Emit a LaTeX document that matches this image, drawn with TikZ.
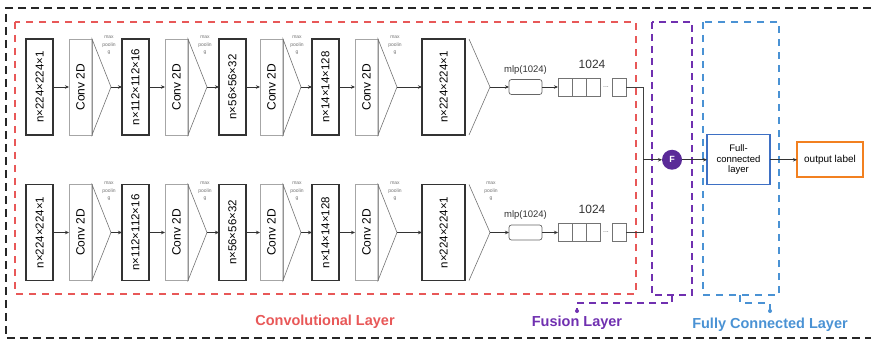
\documentclass[tikz,border=0pt]{standalone}
\usepackage{fontspec}
\setmainfont{Liberation Sans}
\usetikzlibrary{arrows.meta,positioning,calc}
\definecolor{convred}{RGB}{232,88,88}
\definecolor{fusepurple}{RGB}{112,48,176}
\definecolor{fcblue}{RGB}{74,146,212}
\definecolor{boxblue}{RGB}{62,112,196}
\definecolor{outorange}{RGB}{242,128,32}
\definecolor{fcirc}{RGB}{90,42,152}

\begin{document}
\begin{tikzpicture}[x=1pt, y=-1pt,
  feat/.style={rectangle, draw=black!80, line width=1.2pt,
    minimum width=27pt, minimum height=96pt, inner sep=0pt, outer sep=0pt,
    font=\fontsize{11.5}{12}\selectfont},
  conv/.style={rectangle, draw=black!35, line width=0.7pt,
    minimum width=23pt, minimum height=96pt, inner sep=0pt, outer sep=0pt,
    font=\fontsize{12}{13}\selectfont},
  pool/.style={draw=black!55, line width=0.6pt},
  poollbl/.style={font=\fontsize{5}{7.5}\selectfont, text=black!55,
    align=center, inner sep=0pt},
  mlp/.style={rectangle, rounded corners=2.5pt, draw=black!60, line width=0.7pt,
    minimum width=33pt, minimum height=15pt, inner sep=0pt, outer sep=0pt},
  cell/.style={rectangle, draw=black!55, line width=0.7pt,
    minimum width=14pt, minimum height=18pt, inner sep=0pt, outer sep=0pt},
  dotsty/.style={font=\fontsize{7}{7}\selectfont, text=black!60, inner sep=0pt},
  mlplbl/.style={font=\fontsize{9.5}{10}\selectfont, text=black!80, inner sep=0pt},
  numlbl/.style={font=\fontsize{12}{13}\selectfont, text=black!80, inner sep=0pt},
  fuse/.style={circle, fill=fcirc, minimum size=20pt, inner sep=0pt, outer sep=0pt,
    text=white, font=\bfseries\fontsize{9}{9}\selectfont},
  fcbox/.style={rectangle, draw=boxblue, line width=1.3pt, minimum width=63pt,
    minimum height=50pt, align=center, inner sep=0pt, outer sep=0pt,
    font=\fontsize{9.5}{10.5}\selectfont},
  outbox/.style={rectangle, draw=outorange, line width=1.6pt, minimum width=66pt,
    minimum height=35pt, inner sep=0pt, outer sep=0pt,
    font=\fontsize{10}{12}\selectfont},
  layerlbl/.style={font=\bfseries\fontsize{14.5}{16}\selectfont, inner sep=0pt},
  arr/.style={-{Stealth[length=4pt,width=3.5pt]}, line width=0.7pt, draw=black!80},
  wire/.style={line width=0.7pt, draw=black!75},
  outerdash/.style={draw=black!85, line width=2.6pt, dash pattern=on 8pt off 5pt},
  reddash/.style={draw=convred, line width=1.8pt, dash pattern=on 7pt off 6pt},
  purpdash/.style={draw=fusepurple, line width=2pt, dash pattern=on 7pt off 5pt},
  bluedash/.style={draw=fcblue, line width=2pt, dash pattern=on 7pt off 6pt},
]
\useasboundingbox (0,0) rectangle (871,342);

% FRAMES
\draw[outerdash] (871,8) -- (6,8) -- (6,338) -- (871,338);
\draw[reddash] (15,22) rectangle (636,294);
\draw[purpdash] (652,22) rectangle (692,295);
\draw[bluedash] (703,22) rectangle (779,295);
\draw[purpdash] (672,295) -- (672,303) -- (577,303) -- (577,310);
\fill[fusepurple] (577,311) circle (2pt);
\draw[bluedash] (740,295) -- (740,303) -- (770,303) -- (770,310);
\fill[fcblue] (770,311) circle (2pt);

% TOP BRANCH
\node[feat] (tx1) at (39.5,87) {\rotatebox{90}{n×224×224×1}};
\node[conv, right=16pt of tx1] (tc1) {\rotatebox{90}{Conv 2D}};
\coordinate[right=19pt of tc1] (tp1);
\node[feat, right=11pt of tp1] (tx2) {\rotatebox{90}{n×112×112×16}};
\node[conv, right=16pt of tx2] (tc2) {\rotatebox{90}{Conv 2D}};
\coordinate[right=19pt of tc2] (tp2);
\node[feat, right=12pt of tp2] (tx3) {\rotatebox{90}{n×56×56×32}};
\node[conv, right=14pt of tx3] (tc3) {\rotatebox{90}{Conv 2D}};
\coordinate[right=18pt of tc3] (tp3);
\node[feat, right=11pt of tp3] (tx4) {\rotatebox{90}{n×14×14×128}};
\node[conv, right=16pt of tx4] (tc4) {\rotatebox{90}{Conv 2D}};
\coordinate[right=19pt of tc4] (tp4);
\node[feat, minimum width=43pt, right=25pt of tp4] (tx5) {\rotatebox{90}{n×224×224×1}};
\coordinate[right=4pt of tx5.north east] (tq5a);
\coordinate[right=4pt of tx5.south east] (tq5b);
\coordinate[right=25pt of tx5] (tp5);
\node[mlp, right=19pt of tp5] (tmlp) {};
\node[mlplbl, above=5pt of tmlp] (tmlplbl) {mlp(1024)};
\node[cell, right=16pt of tmlp] (tv1) {};
\node[cell, right=0pt of tv1] (tv2) {};
\node[cell, right=0pt of tv2] (tv3) {};
\node[cell, right=12pt of tv3] (tlast) {};
\node[dotsty] (tdots) at ($(tv3.east)!0.5!(tlast.west)$) {...};
\node[numlbl, above=9.5pt of tv2, xshift=13pt] (tnum) {1024};

\node[poollbl, above=32pt of tp1, xshift=-2pt] (tl1) {max\\poolin\\g};
\node[poollbl, above=32pt of tp2, xshift=-2pt] (tl2) {max\\poolin\\g};
\node[poollbl, above=32pt of tp3, xshift=-4pt] (tl3) {max\\poolin\\g};
\node[poollbl, above=32pt of tp4, xshift=-2pt] (tl4) {max\\poolin\\g};

\draw[pool] (tc1.north east) -- (tp1) -- (tc1.south east) -- cycle;
\draw[pool] (tc2.north east) -- (tp2) -- (tc2.south east) -- cycle;
\draw[pool] (tc3.north east) -- (tp3) -- (tc3.south east) -- cycle;
\draw[pool] (tc4.north east) -- (tp4) -- (tc4.south east) -- cycle;
\draw[pool] (tq5a) -- (tp5) -- (tq5b);

\draw[arr] (tx1) -- (tc1);
\draw[arr] (tp1) -- (tx2);
\draw[arr] (tx2) -- (tc2);
\draw[arr] (tp2) -- (tx3);
\draw[arr] (tx3) -- (tc3);
\draw[arr] (tp3) -- (tx4);
\draw[arr] (tx4) -- (tc4);
\draw[arr] (tp4) -- (tx5);
\draw[arr] (tp5) -- (tmlp);
\draw[arr] (tmlp) -- (tv1);

% BOTTOM BRANCH
\node[feat] (bx1) at (39.5,232.5) {\rotatebox{90}{n×224×224×1}};
\node[conv, right=16pt of bx1] (bc1) {\rotatebox{90}{Conv 2D}};
\coordinate[right=19pt of bc1] (bp1);
\node[feat, right=11pt of bp1] (bx2) {\rotatebox{90}{n×112×112×16}};
\node[conv, right=16pt of bx2] (bc2) {\rotatebox{90}{Conv 2D}};
\coordinate[right=19pt of bc2] (bp2);
\node[feat, right=12pt of bp2] (bx3) {\rotatebox{90}{n×56×56×32}};
\node[conv, right=14pt of bx3] (bc3) {\rotatebox{90}{Conv 2D}};
\coordinate[right=18pt of bc3] (bp3);
\node[feat, right=11pt of bp3] (bx4) {\rotatebox{90}{n×14×14×128}};
\node[conv, right=16pt of bx4] (bc4) {\rotatebox{90}{Conv 2D}};
\coordinate[right=19pt of bc4] (bp4);
\node[feat, minimum width=43pt, right=25pt of bp4] (bx5) {\rotatebox{90}{n×224×224×1}};
\coordinate[right=4pt of bx5.north east] (bq5a);
\coordinate[right=4pt of bx5.south east] (bq5b);
\coordinate[right=25pt of bx5] (bp5);
\node[mlp, right=19pt of bp5] (bmlp) {};
\node[mlplbl, above=5pt of bmlp] (bmlplbl) {mlp(1024)};
\node[cell, right=16pt of bmlp] (bv1) {};
\node[cell, right=0pt of bv1] (bv2) {};
\node[cell, right=0pt of bv2] (bv3) {};
\node[cell, right=12pt of bv3] (blast) {};
\node[dotsty] (bdots) at ($(bv3.east)!0.5!(blast.west)$) {...};
\node[numlbl, above=9.5pt of bv2, xshift=13pt] (bnum) {1024};

\node[poollbl, above=31.5pt of bp1, xshift=-2pt] (bl1) {max\\poolin\\g};
\node[poollbl, above=31.5pt of bp2, xshift=-2pt] (bl2) {max\\poolin\\g};
\node[poollbl, above=31.5pt of bp3, xshift=-4pt] (bl3) {max\\poolin\\g};
\node[poollbl, above=31.5pt of bp4, xshift=-2pt] (bl4) {max\\poolin\\g};
\node[poollbl, above=31.5pt of bp5, xshift=1pt] (bl5) {max\\poolin\\g};

\draw[pool] (bc1.north east) -- (bp1) -- (bc1.south east) -- cycle;
\draw[pool] (bc2.north east) -- (bp2) -- (bc2.south east) -- cycle;
\draw[pool] (bc3.north east) -- (bp3) -- (bc3.south east) -- cycle;
\draw[pool] (bc4.north east) -- (bp4) -- (bc4.south east) -- cycle;
\draw[pool] (bq5a) -- (bp5) -- (bq5b);

\draw[arr] (bx1) -- (bc1);
\draw[arr] (bp1) -- (bx2);
\draw[arr] (bx2) -- (bc2);
\draw[arr] (bp2) -- (bx3);
\draw[arr] (bx3) -- (bc3);
\draw[arr] (bp3) -- (bx4);
\draw[arr] (bx4) -- (bc4);
\draw[arr] (bp4) -- (bx5);
\draw[arr] (bp5) -- (bmlp);
\draw[arr] (bmlp) -- (bv1);

% FUSION AND OUTPUT
\coordinate[right=17pt of tlast] (jt);
\coordinate[right=17pt of blast] (jb);
\coordinate (jm) at ($(jt)!0.5!(jb)$);
\draw[wire] (tlast) -- (jt) -- (jb) -- (blast);
\node[fuse, right=19pt of jm] (F) {F};
\node[fcbox, right=25pt of F] (fc) {Full-\\connected\\layer};
\node[outbox, right=27pt of fc] (out) {output label};
\draw[arr] (jm) -- (F);
\draw[arr] (F) -- (fc);
\draw[arr] (fc) -- (out);

% LAYER LABELS
\node[layerlbl, text=convred] (convlbl) at (325,322) {Convolutional Layer};
\node[layerlbl, text=fusepurple] (fuselbl) at (577,323) {Fusion Layer};
\node[layerlbl, text=fcblue] (fclbl) at (770,325) {Fully Connected Layer};
\end{tikzpicture}
\end{document}
